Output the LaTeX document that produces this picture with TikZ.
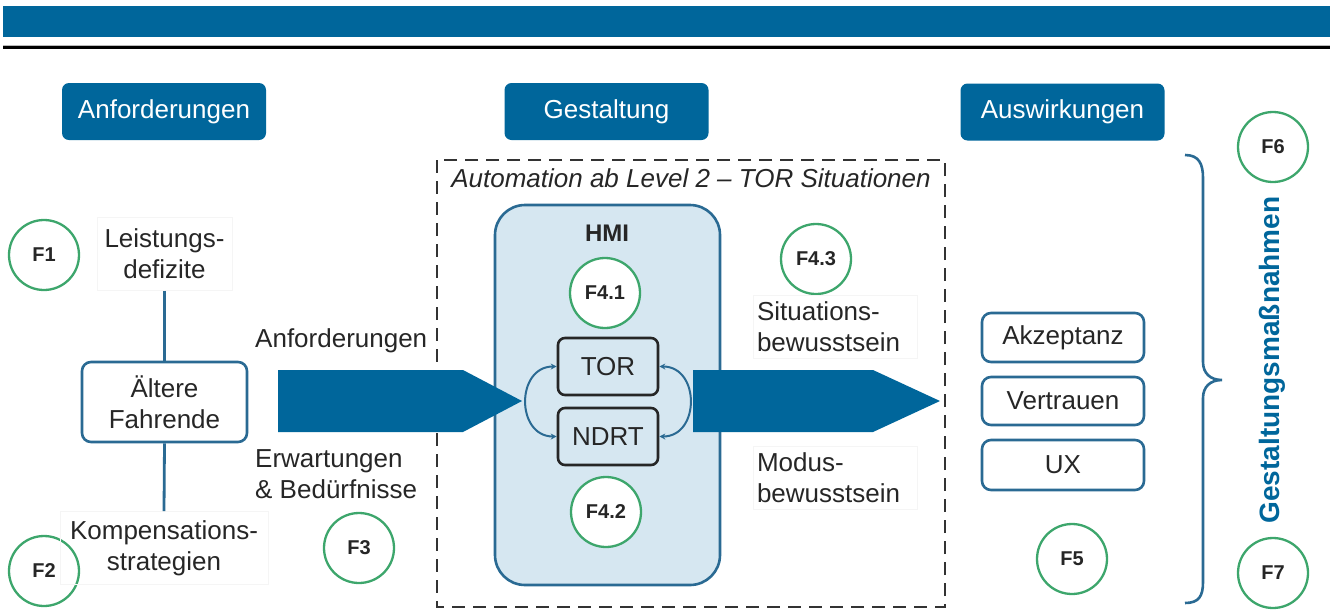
\documentclass[tikz,border=0pt]{standalone}
\usepackage{fontspec}
\setmainfont{Liberation Sans}
\usetikzlibrary{arrows.meta,calc}
\definecolor{hblue}{HTML}{00669B}
\definecolor{bblue}{HTML}{2A6A93}
\definecolor{lblue}{HTML}{D6E7F1}
\definecolor{fgreen}{HTML}{3DA66C}
\begin{document}
\begin{tikzpicture}[x=1pt,y=-1pt,
  every node/.style={font=\fontsize{26}{31}\selectfont, text=black!85},
  header/.style={fill=hblue, rounded corners=7, minimum width=204, minimum height=57, text=white},
  fcircle/.style={circle, draw=fgreen, line width=2.3, fill=white, minimum size=70, inner sep=0, font=\fontsize{20}{24}\selectfont\bfseries},
  blbox/.style={draw=bblue, line width=2.6, rounded corners=9, fill=white, align=center},
  faint/.style={draw=gray!8, line width=0.8, align=center, inner sep=2},
  darkbox/.style={draw=black!85, line width=2.6, rounded corners=7, minimum width=100, minimum height=57},
  blockarrow/.style={fill=hblue},
  cyc/.style={bblue, line width=2, {Stealth[length=6pt,width=6pt]}-{Stealth[length=6pt,width=6pt]}, looseness=1.5}
]
\useasboundingbox (0,0) rectangle (1330,611);
% top bar and rule
\fill[hblue] (3,6) rectangle (1330,37);
\fill[gray!55] (3,45) rectangle (1330,46);
\fill[black] (3,46) rectangle (1330,49);

% headers
\node[header] (h1) at (164,111.5) {Anforderungen};
\node[header] (h2) at (606.5,111.5) {Gestaltung};
\node[header] (h3) at (1062.5,112) {Auswirkungen};

% dashed frame
\draw[black!80, line width=2.8, dash pattern=on 13pt off 8pt] (437,160) rectangle (945,607);
\node[font=\fontsize{26}{31}\selectfont\itshape] (title) at (691,178) {Automation ab Level 2 -- TOR Situationen};

% HMI
\draw[fill=lblue, draw=bblue, line width=2.6, rounded corners=30] (495,205) rectangle (720,585);
\node[font=\fontsize{24}{28}\selectfont\bfseries] (hmi) at (607,233) {HMI};
\node[fcircle] (f41) at (605,293) {F4.1};
\node[fcircle] (f42) at (606,512) {F4.2};
\node[darkbox] (tor) at (608,366.5) {TOR};
\node[darkbox] (ndrt) at (608,436.5) {NDRT};
\draw[cyc] (tor.west) to[out=180,in=180] (ndrt.west);
\draw[cyc] (tor.east) to[out=0,in=0] (ndrt.east);

% block arrows
\fill[blockarrow] (278,370) -- (463,370) -- (522,401) -- (463,432) -- (278,432) -- cycle;
\fill[blockarrow] (693,370) -- (873,370) -- (940,401) -- (873,432) -- (693,432) -- cycle;

% left column
\node[fcircle] (f1) at (44,255) {F1};
\node[fcircle] (f2) at (44,571) {F2};
\node[fcircle] (f3) at (359,548) {F3};
\node[faint, minimum width=135, minimum height=73] (ld) at (164.5,254) {Leistungs-\\defizite};
\node[blbox, minimum width=165, minimum height=80] (af) at (164.5,402) {Ältere\\Fahrende};
\node[faint, minimum width=208, minimum height=73] (ks) at (164,548) {Kompensations-\\strategien};
\draw[bblue, line width=2.8] (ld.south) -- (af.north);
\draw[bblue, line width=2.8] (af.south) -- (ks.north);

\node[anchor=west, inner sep=0] (anf) at (255,341) {Anforderungen};
\node[anchor=north west, align=left, inner sep=0] (erw) at (255,449) {Erwartungen\\\& Bedürfnisse};

% middle right labels
\node[fcircle] (f43) at (816,259) {F4.3};
\node[faint, minimum width=164, minimum height=63, align=left, text width=156] (sit) at (835,327) {Situations-\\bewusstsein};
\node[faint, minimum width=164, minimum height=63, align=left, text width=156] (mod) at (835,478) {Modus-\\bewusstsein};

% right column
\node[blbox, minimum width=162, minimum height=49] (akz) at (1063,337.5) {Akzeptanz};
\node[blbox, minimum width=162, minimum height=48] (ver) at (1063,401) {Vertrauen};
\node[blbox, minimum width=162, minimum height=50] (ux) at (1063,465) {UX};
\node[fcircle] (f5) at (1072,559) {F5};

% brace
\draw[bblue, line width=2.6] (1185,155) .. controls (1199,155) and (1203,164) .. (1203,178) -- (1203,362) .. controls (1203,373) and (1210,380) .. (1222,380) .. controls (1210,380) and (1203,387) .. (1203,398) -- (1203,582) .. controls (1203,596) and (1199,603) .. (1185,603);
\node[fcircle] (f6) at (1273,147) {F6};
\node[fcircle] (f7) at (1273,573) {F7};
\node[rotate=90, font=\fontsize{28}{31}\selectfont\bfseries, text=hblue] (gm) at (1272,360) {Gestaltungsmaßnahmen};
\end{tikzpicture}
\end{document}
